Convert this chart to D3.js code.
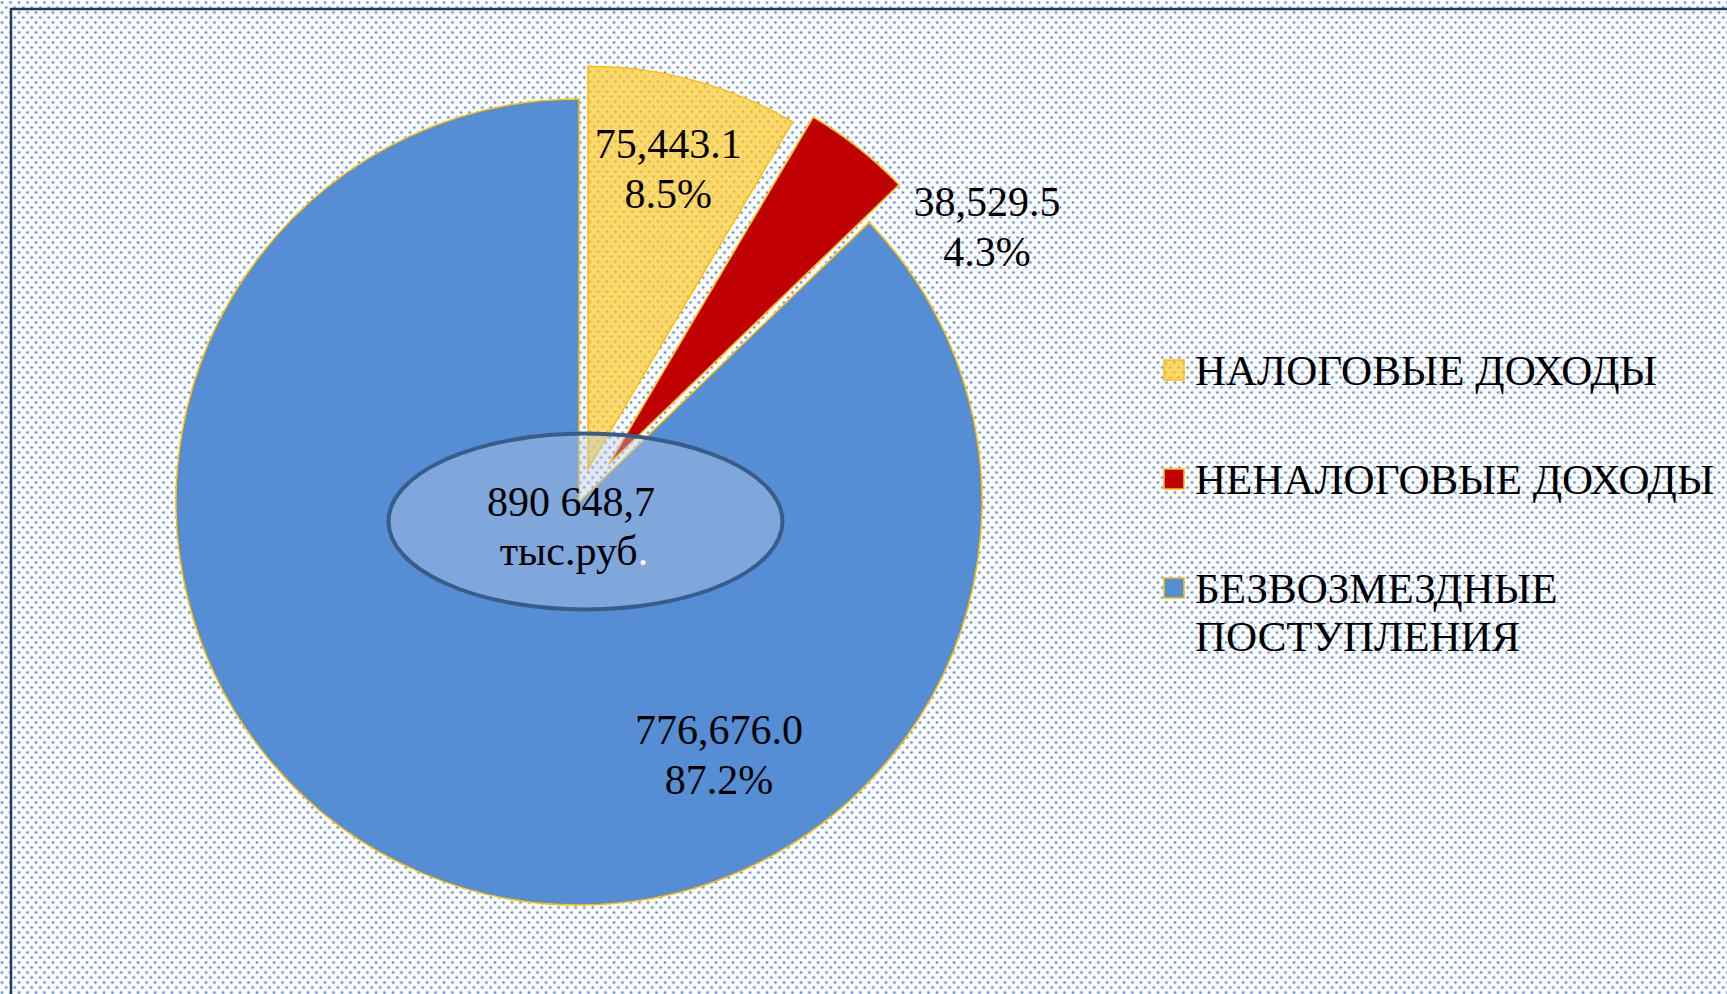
<!DOCTYPE html>
<html>
<head>
<meta charset="utf-8">
<script src="https://cdn.jsdelivr.net/npm/d3@7"></script>
<style>
    body { margin: 0; background: #fff; }
    svg { display: block; }
    text { font-family: "Liberation Serif", "Times New Roman", serif; fill: #000; }
</style>
</head>
<body>
<svg id="chart" width="1727" height="994"></svg>
<script>

// data
const categories = ['НАЛОГОВЫЕ ДОХОДЫ', 'НЕНАЛОГОВЫЕ ДОХОДЫ', 'БЕЗВОЗМЕЗДНЫЕ ПОСТУПЛЕНИЯ'];
const values = [75443.1, 38529.5, 776676.0];
const percents = ['8.5%', '4.3%', '87.2%'];
const legendLines = [['НАЛОГОВЫЕ ДОХОДЫ'], ['НЕНАЛОГОВЫЕ ДОХОДЫ'], ['БЕЗВОЗМЕЗДНЫЕ', 'ПОСТУПЛЕНИЯ']];
const totalLines = ['890 648,7', 'тыс.руб'];

const colors = ['url(#yellowDots)', '#C00000', '#558ED5'];
const explode = [34, 48, 0];
// label position: angle in degrees (from top) and distance from pie centre
const labelPolar = [[15, 345], [56, 492], [151, 289]];

const width = 1727, height = 994;
const cx = 579, cy = 502, radius = 403;
const fontSize = 42, lineH = 50;

let svg = d3.select('#chart');
let defs = svg.append('defs');

// background dots
let bg = defs.append('pattern')
    .attr('id', 'bgDots')
    .attr('patternUnits', 'userSpaceOnUse')
    .attr('width', 8.5).attr('height', 10);
bg.append('rect').attr('width', 8.5).attr('height', 10).attr('fill', '#fff');
[[2, 2.5], [6.25, 7.5]].forEach(p => {
    bg.append('circle').attr('cx', p[0]).attr('cy', p[1]).attr('r', 1.9).attr('fill', '#cddaf0');
    bg.append('circle').attr('cx', p[0]).attr('cy', p[1]).attr('r', 1.1).attr('fill', '#5a86cc');
});

// yellow slice dots
let yp = defs.append('pattern')
    .attr('id', 'yellowDots')
    .attr('patternUnits', 'userSpaceOnUse')
    .attr('width', 8.5).attr('height', 10);
yp.append('rect').attr('width', 8.5).attr('height', 10).attr('fill', '#FFD966');
[[2, 2.5], [6.25, 7.5]].forEach(p => {
    yp.append('circle').attr('cx', p[0]).attr('cy', p[1]).attr('r', 1.3).attr('fill', '#c9b56a');
});

svg.append('rect')
    .attr('width', width).attr('height', height)
    .attr('fill', 'url(#bgDots)');

// frame
svg.append('path')
    .attr('d', `M11,${height} L11,9 L${width},9`)
    .attr('fill', 'none')
    .attr('stroke', '#1F3864')
    .attr('stroke-width', 2.5);

// pie
let pie = d3.pie().sort(null).value(d => d)(values);
let arc = d3.arc().innerRadius(0).outerRadius(radius);

let g = svg.append('g').attr('transform', `translate(${cx},${cy})`);

g.selectAll('path.slice')
    .data(pie)
    .join('path')
    .attr('class', 'slice')
    .attr('transform', (d, i) => {
        let a = (d.startAngle + d.endAngle) / 2;
        return `translate(${explode[i] * Math.sin(a)},${-explode[i] * Math.cos(a)})`;
    })
    .attr('d', arc)
    .attr('fill', (d, i) => colors[i])
    .attr('stroke', '#FFC000')
    .attr('stroke-width', 1.5)
    .attr('stroke-linejoin', 'miter');

// centre ellipse
svg.append('ellipse')
    .attr('cx', 585.5).attr('cy', 521.5)
    .attr('rx', 197).attr('ry', 88)
    .attr('fill', 'rgba(185,202,230,0.42)')
    .attr('stroke', '#385D8A')
    .attr('stroke-width', 4);

let total = svg.append('text')
    .attr('text-anchor', 'middle')
    .style('font-size', fontSize + 'px');
total.append('tspan').attr('x', 571).attr('y', 516).text(totalLines[0]);
let t2 = total.append('tspan').attr('x', 574).attr('y', 565);
t2.append('tspan').text(totalLines[1]);
t2.append('tspan').style('fill', '#fff').text('.');

// data labels
let fmt = d3.format(',.1f');
let labels = svg.selectAll('text.label')
    .data(pie)
    .join('text')
    .attr('class', 'label')
    .attr('text-anchor', 'middle')
    .style('font-size', fontSize + 'px');

labels.each(function (d, i) {
    let a = labelPolar[i][0] * Math.PI / 180;
    let x = cx + labelPolar[i][1] * Math.sin(a);
    let y = cy - labelPolar[i][1] * Math.cos(a);
    let t = d3.select(this);
    t.append('tspan').attr('x', x).attr('y', y - lineH / 2 + 14).text(fmt(d.data));
    t.append('tspan').attr('x', x).attr('y', y + lineH / 2 + 14).text(percents[i]);
});

// legend
let legend = svg.append('g').attr('transform', 'translate(1164,360)');
let items = legend.selectAll('g')
    .data(categories)
    .join('g')
    .attr('transform', (d, i) => `translate(0,${i * 109})`);

items.append('rect')
    .attr('width', 20).attr('height', 20)
    .attr('fill', (d, i) => colors[i])
    .attr('stroke', '#FFC000')
    .attr('stroke-width', 1.5);

items.append('text')
    .style('font-size', '43px')
    .selectAll('tspan')
    .data((d, i) => legendLines[i])
    .join('tspan')
    .attr('x', 31)
    .attr('y', (d, j) => 25 + j * 48)
    .text(d => d);

</script>
</body>
</html>
